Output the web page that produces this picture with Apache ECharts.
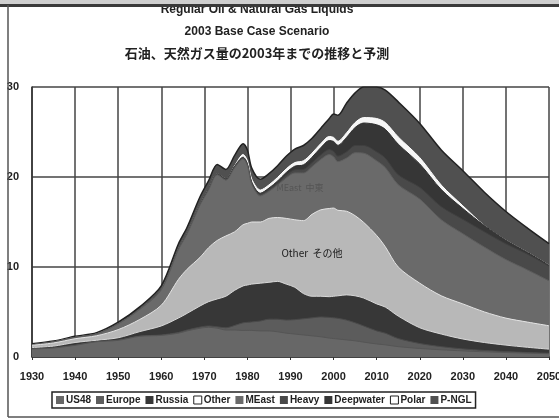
<!DOCTYPE html>
<html>
<head>
<meta charset="utf-8">
<script src="https://cdn.jsdelivr.net/npm/echarts@6/dist/echarts.min.js"></script>
<style>
  html, body { margin: 0; padding: 0; background: #fff; }
  #chart { width: 559px; height: 419px; }
</style>
</head>
<body>
<div id="chart"></div>
<script>
// Production by region, Gb per year
const years     = [1930,1935,1940,1945,1950,1955,1960,1964,1966,1969,1971,1973,1975,1977,1979,1980,1981,1983,1985,1987,1989,1991,1993,1995,1997,1999,2000,2001,2003,2005,2007,2010,2012,2015,2020,2025,2030,2035,2040,2045,2050];
const us48      = [0.9,1.0,1.3,1.7,1.85,2.3,2.4,2.65,2.9,3.2,3.3,3.2,3.0,3.0,2.95,2.95,2.95,2.9,2.9,2.8,2.65,2.55,2.45,2.35,2.25,2.1,2.05,2.0,1.9,1.8,1.65,1.45,1.35,1.15,0.95,0.8,0.68,0.58,0.5,0.43,0.37];
const europe    = [0.01,0.01,0.01,0.01,0.02,0.02,0.05,0.08,0.1,0.12,0.15,0.15,0.25,0.5,0.85,0.9,0.95,1.1,1.3,1.4,1.45,1.6,1.8,2.0,2.2,2.3,2.3,2.3,2.2,2.0,1.8,1.45,1.3,0.9,0.55,0.35,0.22,0.15,0.1,0.07,0.05];
const russia    = [0.14,0.2,0.3,0.15,0.27,0.5,1.0,1.6,1.85,2.35,2.7,3.1,3.5,3.9,4.1,4.15,4.2,4.2,4.1,4.2,4.0,3.6,2.8,2.4,2.3,2.3,2.4,2.5,2.8,3.0,3.1,3.0,2.9,2.5,1.75,1.4,1.1,0.88,0.72,0.58,0.45];
const other     = [0.25,0.35,0.42,0.5,0.9,1.35,2.3,4.3,4.9,5.4,6.0,6.5,6.7,6.5,6.8,6.85,6.9,6.8,7.1,7.1,7.3,7.5,8.1,9.1,9.6,9.8,9.8,9.5,9.3,8.9,8.4,7.6,6.7,5.45,4.95,4.25,3.9,3.4,3.0,2.8,2.6];
const meast     = [0.06,0.12,0.15,0.2,0.63,1.1,1.7,3.3,3.9,5.8,6.4,7.3,6.2,7.1,7.3,6.4,4.2,2.9,3.0,3.6,4.5,5.2,5.3,5.3,5.6,6.0,5.7,5.4,5.9,7.0,7.7,8.3,8.8,9.15,9.35,8.45,7.8,7.2,6.5,5.8,5.0];
const heavy     = [0,0,0,0,0,0,0,0.05,0.06,0.08,0.1,0.1,0.12,0.14,0.15,0.16,0.17,0.2,0.22,0.25,0.3,0.35,0.4,0.45,0.5,0.55,0.6,0.62,0.7,0.8,0.85,1.0,1.05,1.1,1.3,1.45,1.6,1.7,1.75,1.75,1.65];
const deepwater = [0,0,0,0,0,0,0,0,0,0,0,0,0.02,0.03,0.05,0.06,0.07,0.1,0.15,0.2,0.3,0.4,0.5,0.6,0.8,1.0,1.1,1.2,1.6,2.0,2.5,3.0,3.2,3.4,2.6,1.9,1.2,0.7,0.4,0.2,0.08];
const polar     = [0,0,0,0,0,0,0,0,0,0,0,0,0,0.05,0.3,0.33,0.35,0.35,0.35,0.4,0.4,0.4,0.45,0.45,0.45,0.45,0.45,0.45,0.5,0.55,0.6,0.7,0.75,0.8,0.7,0.5,0.3,0,0,0,0];
const pngl      = [0.12,0.1,0.12,0.15,0.2,0.3,0.45,0.6,0.7,0.85,0.95,1.05,1.05,1.15,1.2,1.2,1.2,1.2,1.25,1.3,1.4,1.5,1.7,1.65,1.7,2.0,2.6,2.9,3.3,3.3,3.4,3.5,3.6,3.9,3.8,3.9,3.9,3.7,3.2,2.7,2.4];

const xTicks = [1930,1940,1950,1960,1970,1980,1990,2000,2010,2020,2030,2040,2050];
const yTicks = [0,10,20,30];

// bottom to top
const layers = [
  { name: 'US48',      values: us48,      fill: '#676767', edge: '#555555' },
  { name: 'Europe',    values: europe,    fill: '#5c5c5c', edge: '#4a4a4a' },
  { name: 'Russia',    values: russia,    fill: '#373737', edge: '#d8d8d8' },
  { name: 'Other',     values: other,     fill: '#b8b8b8', edge: '#e4e4e4', hollow: true },
  { name: 'MEast',     values: meast,     fill: '#6a6a6a', edge: '#5e5e5e' },
  { name: 'Heavy',     values: heavy,     fill: '#494949', edge: '#404040' },
  { name: 'Deepwater', values: deepwater, fill: '#363636', edge: '#303030' },
  { name: 'Polar',     values: polar,     fill: '#f6f6f6', edge: '#ffffff', hollow: true },
  { name: 'P-NGL',     values: pngl,      fill: '#505050', edge: '#222222' }
];

// running totals: each band is drawn as the area under its cumulative top,
// upper bands first so the lower ones paint over them
const running = years.map(() => 0);
const cumulative = layers.map(l => l.values.map((v, i) => (running[i] = +(running[i] + v).toFixed(3))));

const chart = echarts.init(document.getElementById('chart'), null, { renderer: 'canvas' });

const series = layers.map((l, k) => ({
  name: l.name,
  type: 'line',
  smooth: 0.3,
  showSymbol: false,
  symbol: 'none',
  z: 2 + (layers.length - k) * 0.01,
  data: years.map((y, i) => [y, cumulative[k][i]]),
  lineStyle: { color: l.edge, width: l.name === 'P-NGL' ? 1.5 : 1 },
  itemStyle: { color: l.fill },
  areaStyle: { color: l.fill, opacity: 1, origin: 'start' },
  emphasis: { disabled: true },
  animation: false
})).reverse();

const boldFont = 'bold 12px "Liberation Sans", Arial, sans-serif';

chart.setOption({
  animation: false,
  grid: { left: 32, right: 10, top: 87, bottom: 62, containLabel: false, outerBoundsMode: 'none' },
  xAxis: {
    type: 'value',
    min: xTicks[0],
    max: xTicks[xTicks.length - 1],
    interval: 10,
    axisLine: { show: true, lineStyle: { color: '#333', width: 1.5 } },
    axisTick: { show: true, length: 3, lineStyle: { color: '#333' } },
    axisLabel: {
      margin: 14,
      color: '#222',
      fontWeight: 'bold',
      fontSize: 11,
      fontFamily: '"Liberation Sans", Arial, sans-serif',
      hideOverlap: false,
      formatter: v => String(v)
    },
    splitLine: { show: true, lineStyle: { color: '#444', width: 1.5 } }
  },
  yAxis: {
    type: 'value',
    min: yTicks[0],
    max: yTicks[yTicks.length - 1],
    interval: 10,
    axisLine: { show: true, lineStyle: { color: '#333', width: 1.5 } },
    axisTick: { show: false },
    axisLabel: {
      margin: 13,
      color: '#222',
      fontWeight: 'bold',
      fontSize: 11,
      fontFamily: '"Liberation Sans", Arial, sans-serif'
    },
    splitLine: { show: true, lineStyle: { color: '#444', width: 1.5 } }
  },
  legend: {
    left: 52,
    top: 392,
    orient: 'horizontal',
    icon: 'rect',
    itemWidth: 8,
    itemHeight: 8,
    itemGap: 5,
    padding: [3, 4],
    borderColor: '#222',
    borderWidth: 1.5,
    selectedMode: false,
    textStyle: {
      color: '#222',
      fontWeight: 'bold',
      fontSize: 10,
      fontFamily: '"Liberation Sans", Arial, sans-serif',
      padding: [0, 0, 0, -3]
    },
    data: layers.map(l => ({
      name: l.name,
      itemStyle: l.hollow ? { color: '#ffffff', borderColor: '#222', borderWidth: 1 } : { color: l.fill }
    }))
  },
  graphic: [
    {
      type: 'text', z: 10,
      style: { text: 'Regular Oil & Natural Gas Liquids', x: 257, y: 4, textAlign: 'center', textVerticalAlign: 'top', font: boldFont, fill: '#222' }
    },
    {
      type: 'text', z: 10,
      style: { text: '2003 Base Case Scenario', x: 257, y: 26, textAlign: 'center', textVerticalAlign: 'top', font: boldFont, fill: '#222' }
    },
    {
      type: 'text', z: 10,
      style: { text: '石油、天然ガス量の2003年までの推移と予測', x: 257, y: 47, textAlign: 'center', textVerticalAlign: 'top', font: 'bold 13px "Noto Sans CJK JP", sans-serif', fill: '#222' }
    },
    {
      type: 'text', z: 10,
      style: { text: 'Other  その他', x: 312, y: 253, textAlign: 'center', textVerticalAlign: 'middle', font: '10px "Noto Sans CJK JP", sans-serif', fill: '#1a1a1a' }
    },
    {
      type: 'text', z: 10,
      style: { text: 'MEast  中東', x: 300, y: 188, textAlign: 'center', textVerticalAlign: 'middle', font: '9px "Noto Sans CJK JP", sans-serif', fill: '#555555' }
    },
    // page frame
    { type: 'rect', z: 20, shape: { x: 0, y: 0, width: 559, height: 4 }, style: { fill: '#cfcfcf' } },
    { type: 'rect', z: 21, shape: { x: 0, y: 4, width: 559, height: 3 }, style: { fill: '#3a3a3a' } },
    { type: 'line', z: 21, shape: { x1: 8, y1: 5, x2: 8, y2: 417 }, style: { stroke: '#555', lineWidth: 1.5 } },
    { type: 'line', z: 21, shape: { x1: 8, y1: 417, x2: 559, y2: 417 }, style: { stroke: '#555', lineWidth: 1.5 } }
  ],
  series: series
});
</script>
</body>
</html>
